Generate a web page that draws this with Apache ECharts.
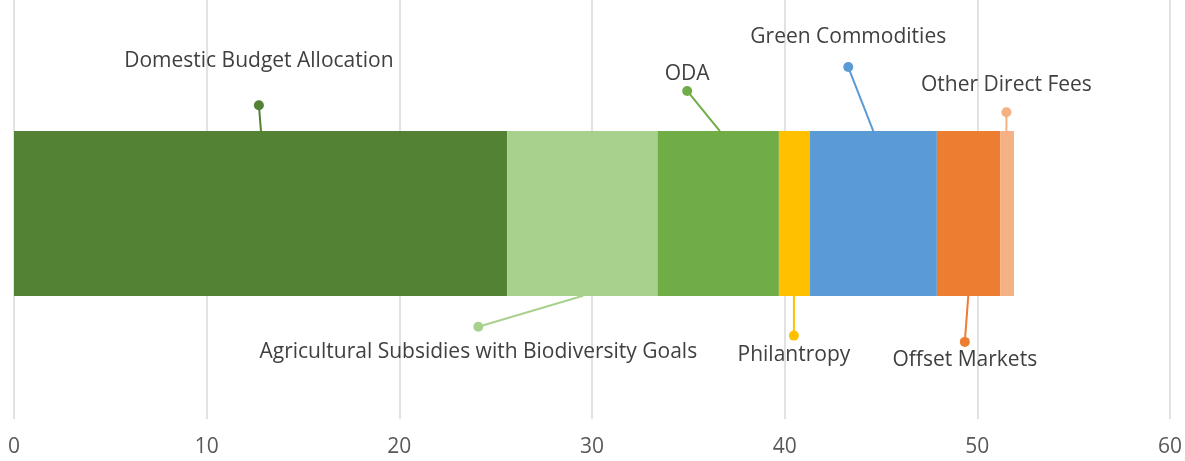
<!DOCTYPE html>
<html>
<head>
<meta charset="utf-8">
<script src="https://cdn.jsdelivr.net/npm/echarts@6/dist/echarts.min.js"></script>
<style>
html,body{margin:0;padding:0;background:#fff;}
#c{width:1185px;height:461px;}
</style>
</head>
<body>
<div id="c"></div>
<script>
// Segment names and values (billions, stacked)
const names = ['Domestic Budget Allocation','Agricultural Subsidies with Biodiversity Goals','ODA','Philantropy','Green Commodities','Offset Markets','Other Direct Fees'];
const values = [25.6, 7.8, 6.3, 1.6, 6.6, 3.3, 0.7];
const colors = ['#548235','#A9D18E','#70AD47','#FFC000','#5B9BD5','#ED7D31','#F4B183'];
const xTicks = [0, 10, 20, 30, 40, 50, 60];

// Leader-line annotations: anchor x on the bar (data units), side of bar, dot x (data units), dot height (% of plot), label gap
const anchorX = [12.82, 29.54, 36.64, 40.48, 44.60, 49.53, 51.51];
const side    = ['top','bottom','top','bottom','top','bottom','top'];
const dotX    = [12.71, 24.10, 34.94, 40.48, 43.30, 49.35, 51.51];
const dotY    = [74.9, 22.0, 78.3, 19.9, 84.0, 18.4, 73.2];
const labelGap= [26, 7, -1, 1, 12, 0, 9];
const barTopPct = 68.7, barBottomPct = 29.4;

const chart = echarts.init(document.getElementById('c'));
const series = [];
names.forEach((n, i) => {
  series.push({
    name: n, type: 'bar', stack: 'total', xAxisIndex: 0, yAxisIndex: 0,
    barWidth: 165, data: [values[i]],
    itemStyle: { color: colors[i] }, silent: true, z: 2
  });
});
names.forEach((n, i) => {
  series.push({
    name: n + ' leader', type: 'line', xAxisIndex: 1, yAxisIndex: 1,
    z: 3, silent: true, animation: false,
    lineStyle: { color: colors[i], width: 2 },
    itemStyle: { color: colors[i] },
    data: [
      { value: [anchorX[i], side[i] === 'top' ? barTopPct : barBottomPct], symbol: 'none' },
      { value: [dotX[i], dotY[i]], symbol: 'circle', symbolSize: 10,
        label: { show: true, formatter: n, position: side[i], distance: labelGap[i],
                 color: '#404040', fontSize: 21, fontFamily: 'Open Sans', lineHeight: 26 } }
    ]
  });
});

chart.setOption({
  animation: false,
  backgroundColor: '#ffffff',
  grid: [
    { left: 14, right: 15, top: 8, bottom: 42 },
    { left: 14, right: 15, top: 0, bottom: 42 }
  ],
  xAxis: [
    { gridIndex: 0, type: 'value', min: 0, max: 60, interval: 10, show: false },
    { gridIndex: 1, type: 'value', min: xTicks[0], max: xTicks[xTicks.length - 1], interval: 10,
      axisLine: { show: false }, axisTick: { show: false },
      splitLine: { show: true, lineStyle: { color: '#d9d9d9', width: 1.5 } },
      axisLabel: { color: '#595959', fontSize: 21, fontFamily: 'Open Sans', margin: 18 } }
  ],
  yAxis: [
    { gridIndex: 0, type: 'category', data: [''], show: false },
    { gridIndex: 1, type: 'value', min: 0, max: 100, show: false }
  ],
  series: series
});
</script>
</body>
</html>
